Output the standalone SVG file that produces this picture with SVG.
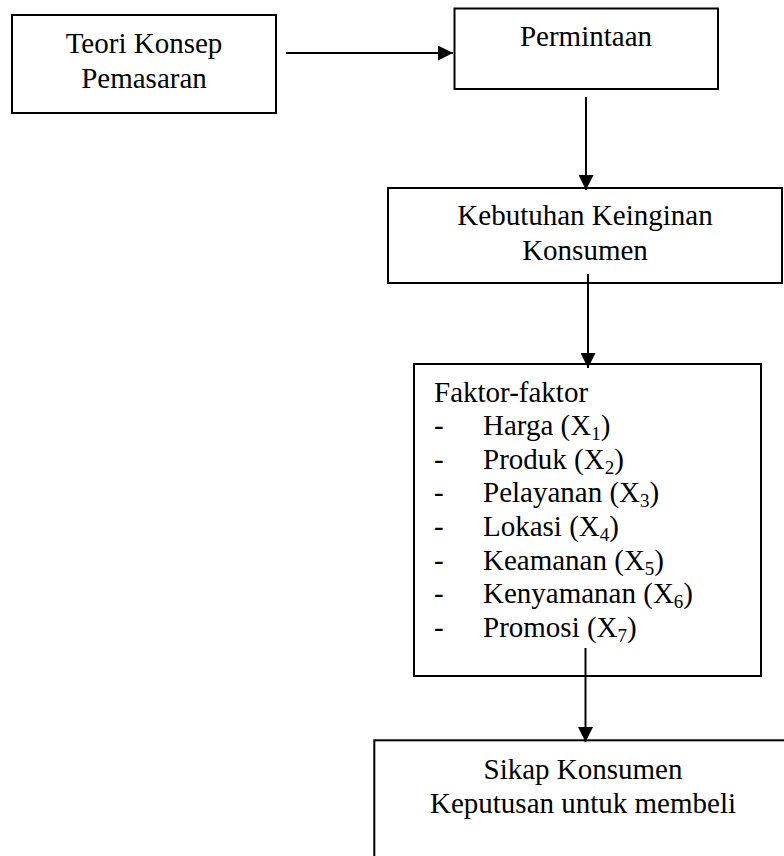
<svg xmlns="http://www.w3.org/2000/svg" width="784" height="856" viewBox="0 0 784 856">
<style>
.box{fill:#fff;stroke:#000;stroke-width:2}
.t{font-family:"Liberation Serif","Times New Roman",serif;font-size:29px;fill:#000}
.c{text-anchor:middle}
.sub{font-size:19px}
.conn{stroke:#000;stroke-width:2;fill:none;marker-end:url(#ah)}
</style>
<defs>
<marker id="ah" viewBox="0 0 15 15" markerWidth="15" markerHeight="15" markerUnits="userSpaceOnUse" refX="15" refY="7.5" orient="auto">
<path d="M0,0 L15,7.5 L0,15 Z" fill="#000"/>
</marker>
</defs>
<rect width="784" height="856" fill="#fff"/>
<g id="teori">
<rect class="box" x="12" y="15" width="264" height="98"/>
<text class="t c" x="144" y="53">Teori Konsep</text>
<text class="t c" x="144" y="87.5">Pemasaran</text>
</g>
<g id="permintaan">
<rect class="box" x="454.5" y="8.5" width="263.5" height="80.5"/>
<text class="t c" x="586" y="46">Permintaan</text>
</g>
<g id="kebutuhan">
<rect class="box" x="388" y="188" width="394" height="95"/>
<text class="t c" x="585" y="225">Kebutuhan Keinginan</text>
<text class="t c" x="585" y="259.5">Konsumen</text>
</g>
<g id="faktor">
<rect class="box" x="414" y="364" width="347" height="312"/>
<text class="t" x="434" y="401.5">Faktor-faktor</text>
<text class="t" x="434" y="435.1">-</text>
<text class="t" x="483" y="435.1">Harga (X<tspan class="sub" dy="5">1</tspan><tspan dy="-5">)</tspan></text>
<text class="t" x="434" y="468.7">-</text>
<text class="t" x="483" y="468.7">Produk (X<tspan class="sub" dy="5">2</tspan><tspan dy="-5">)</tspan></text>
<text class="t" x="434" y="502.3">-</text>
<text class="t" x="483" y="502.3">Pelayanan (X<tspan class="sub" dy="5">3</tspan><tspan dy="-5">)</tspan></text>
<text class="t" x="434" y="535.9">-</text>
<text class="t" x="483" y="535.9">Lokasi (X<tspan class="sub" dy="5">4</tspan><tspan dy="-5">)</tspan></text>
<text class="t" x="434" y="569.5">-</text>
<text class="t" x="483" y="569.5">Keamanan (X<tspan class="sub" dy="5">5</tspan><tspan dy="-5">)</tspan></text>
<text class="t" x="434" y="603.1">-</text>
<text class="t" x="483" y="603.1">Kenyamanan (X<tspan class="sub" dy="5">6</tspan><tspan dy="-5">)</tspan></text>
<text class="t" x="434" y="636.7">-</text>
<text class="t" x="483" y="636.7">Promosi (X<tspan class="sub" dy="5">7</tspan><tspan dy="-5">)</tspan></text>
</g>
<g id="sikap">
<rect class="box" x="374.3" y="740.3" width="430" height="140"/>
<text class="t c" x="583" y="779">Sikap Konsumen</text>
<text class="t c" x="583" y="812.5">Keputusan untuk membeli</text>
</g>
<g id="connectors">
<line class="conn" x1="286" y1="53" x2="453" y2="53"/>
<line class="conn" x1="586" y1="97" x2="586" y2="190"/>
<line class="conn" x1="588" y1="274" x2="588" y2="368"/>
<line class="conn" x1="585.5" y1="648" x2="585.5" y2="742"/>
</g>
</svg>
